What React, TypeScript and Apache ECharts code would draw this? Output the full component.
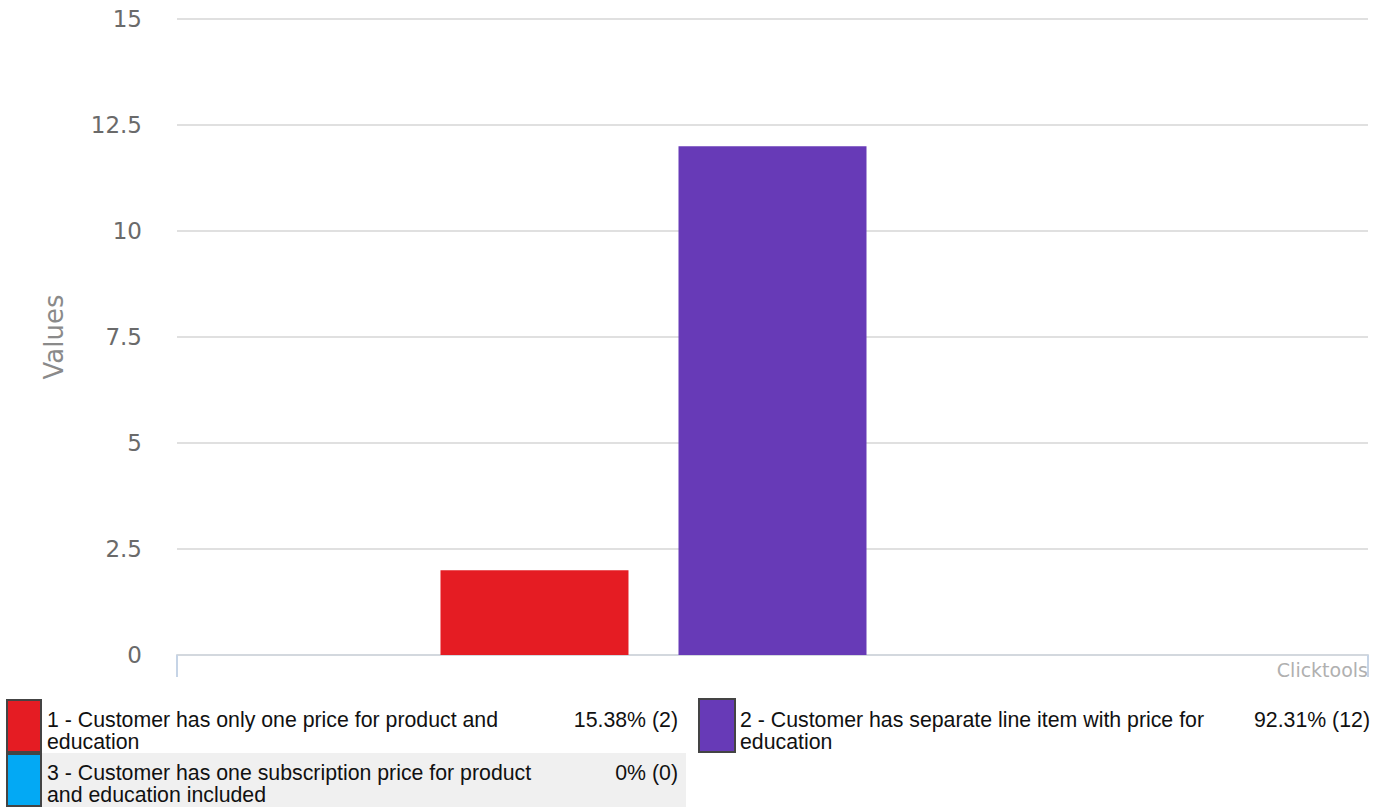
import React, { useEffect, useRef } from "react";
import * as echarts from "echarts";

const categories = [""];
const seriesNames = [
  "1 - Customer has only one price for product and education",
  "2 - Customer has separate line item with price for education",
  "3 - Customer has one subscription price for product and education included",
];
const legendLines = [
  "1 - Customer has only one price for product and\neducation",
  "2 - Customer has separate line item with price for\neducation",
  "3 - Customer has one subscription price for product\nand education included",
];
const seriesValues = [2, 12, 0];
const seriesPercents = ["15.38%", "92.31%", "0%"];
const seriesColors = ["#e51c23", "#673ab7", "#03a9f4"];
const yMin = 0;
const yMax = 15;
const yInterval = 2.5;

const LEGEND_FONT = '21.3px "Liberation Sans", Arial, sans-serif';

export default function App() {
  const ref = useRef<HTMLDivElement>(null);
  useEffect(() => {
    document.body.style.margin = "0";
    if (!ref.current) return;
    const chart = echarts.init(ref.current, null, { renderer: "svg" });

    const legendPos = [
      { sx: 7, sy: 700, sw: 34, sh: 52, tx: 47, ty: 709, vx: 678 },
      { sx: 699, sy: 699, sw: 36, sh: 53, tx: 740, ty: 709, vx: 1370 },
      { sx: 7, sy: 754, sw: 34, sh: 52, tx: 47, ty: 762, vx: 678 },
    ];

    const graphics: any[] = [
      {
        type: "rect",
        shape: { x: 42, y: 753, width: 644, height: 54 },
        style: { fill: "#f0f0f0" },
        silent: true,
      },
    ];
    seriesNames.forEach((_, i) => {
      const p = legendPos[i];
      graphics.push({
        type: "rect",
        shape: { x: p.sx, y: p.sy, width: p.sw, height: p.sh },
        style: { fill: seriesColors[i], stroke: "#444", lineWidth: 2 },
      });
      graphics.push({
        type: "text",
        x: p.tx,
        y: p.ty,
        style: {
          text: legendLines[i],
          font: LEGEND_FONT,
          fill: "#111",
          align: "left",
          verticalAlign: "top",
          lineHeight: 22,
        },
      });
      graphics.push({
        type: "text",
        x: p.vx,
        y: p.ty,
        style: {
          text: `${seriesPercents[i]} (${seriesValues[i]})`,
          font: LEGEND_FONT,
          fill: "#111",
          align: "right",
          verticalAlign: "top",
          lineHeight: 22,
        },
      });
    });
    graphics.push({
      type: "text",
      x: 1368,
      y: 670,
      style: {
        text: "Clicktools",
        font: '19px "DejaVu Sans", sans-serif',
        fill: "#b0b0b0",
        align: "right",
        verticalAlign: "middle",
      },
    });

    chart.setOption({
      animation: false,
      backgroundColor: "#fff",
      grid: { left: 177, right: 20, top: 19, bottom: 152 },
      xAxis: {
        type: "category",
        data: categories,
        axisLine: { show: true, lineStyle: { color: "#d3d8de", width: 2 } },
        axisTick: {
          show: true,
          alignWithLabel: false,
          length: 22,
          lineStyle: { color: "#c6d4e6", width: 2 },
        },
        axisLabel: { show: false },
        splitLine: { show: false },
      },
      yAxis: {
        type: "value",
        min: yMin,
        max: yMax,
        interval: yInterval,
        name: "Values",
        nameLocation: "middle",
        nameRotate: 90,
        nameGap: 110,
        nameTextStyle: {
          fontFamily: "DejaVu Sans",
          fontSize: 26,
          color: "#8a8a8a",
        },
        axisLine: { show: false },
        axisTick: { show: false },
        axisLabel: {
          margin: 35,
          fontFamily: "DejaVu Sans",
          fontSize: 23,
          color: "#6a6a6a",
        },
        splitLine: { lineStyle: { color: "#e0e0e0", width: 2 } },
      },
      series: seriesNames.map((name, i) => ({
        type: "bar",
        name,
        data: [seriesValues[i]],
        barWidth: 188,
        barGap: "26.6%",
        itemStyle: { color: seriesColors[i] },
      })),
      graphic: graphics,
    });
    return () => chart.dispose();
  }, []);
  return (
    <div
      ref={ref}
      style={{ position: "absolute", left: 0, top: 0, width: 1388, height: 807 }}
    />
  );
}
